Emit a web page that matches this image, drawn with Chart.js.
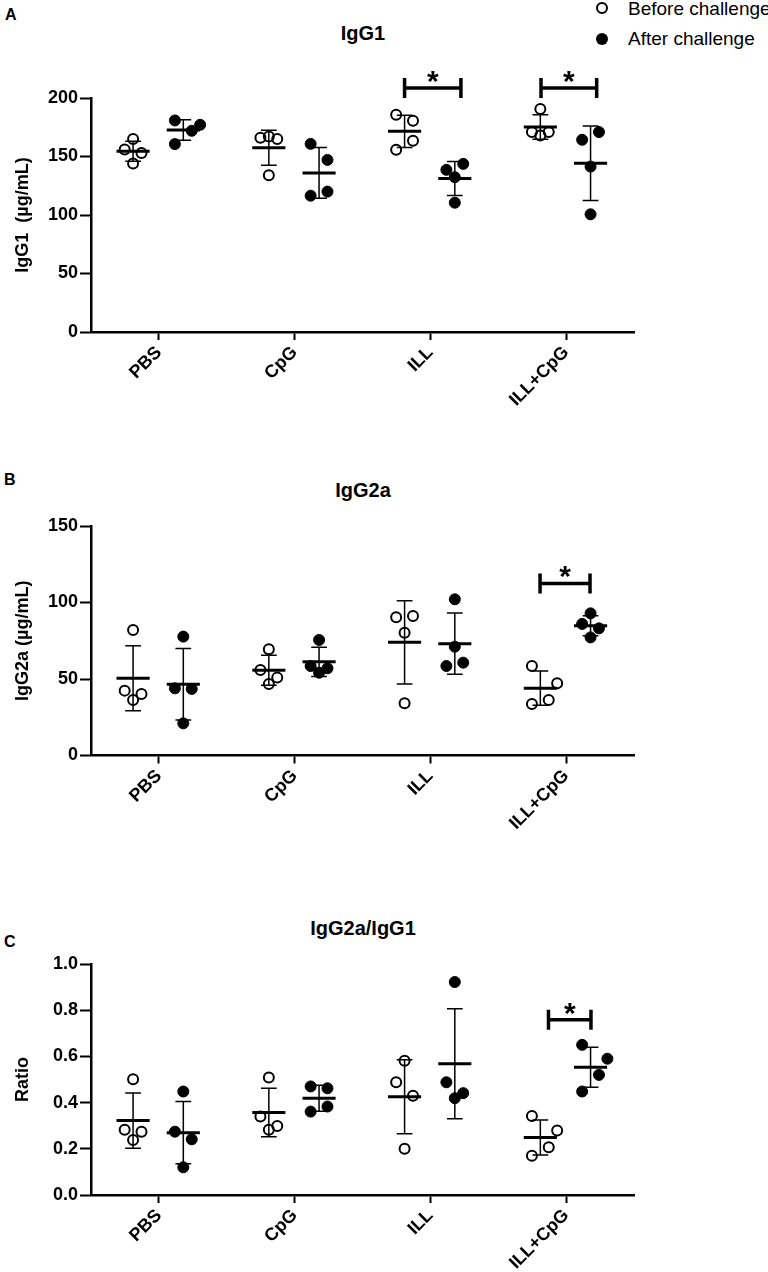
<!DOCTYPE html>
<html>
<head>
<meta charset="utf-8">
<script src="https://cdn.jsdelivr.net/npm/chart.js@4.4.1/dist/chart.umd.min.js"></script>
<style>
  body { margin: 0; background: #fff; width: 768px; height: 1272px; position: relative; overflow: hidden;
         font-family: 'Liberation Sans', Arial, sans-serif; color: #000; }
  canvas { position: absolute; left: 0; }
  .txt { position: absolute; white-space: nowrap; }
  .letter { font-size: 16px; font-weight: bold; line-height: 18px; }
  .title { font-size: 20px; font-weight: bold; line-height: 24px; left: 363px; transform: translateX(-50%); }
  .leg { font-size: 19px; line-height: 22px; left: 628px; }
  .dot { position: absolute; width: 12px; height: 12px; border-radius: 50%; box-sizing: border-box; }
</style>
</head>
<body>
<div class="txt letter" style="left:5px;top:6px">A</div>
<div class="txt letter" style="left:4px;top:471px">B</div>
<div class="txt letter" style="left:4px;top:933px">C</div>

<div class="txt title" style="top:21px">IgG1</div>
<div class="txt title" style="top:478px">IgG2a</div>
<div class="txt title" style="top:916px">IgG2a/IgG1</div>

<div class="dot" style="left:596px;top:2px;border:2px solid #000"></div>
<div class="txt leg" style="top:-2px">Before challenge</div>
<div class="dot" style="left:596px;top:33px;background:#000"></div>
<div class="txt leg" style="top:28px">After challenge</div>

<canvas id="chartA" width="768" height="430" style="top:0"></canvas>
<canvas id="chartB" width="768" height="430" style="top:430px"></canvas>
<canvas id="chartC" width="768" height="412" style="top:860px"></canvas>

<script>
// ---- data (4 mice per group) ----
const categories = ['PBS', 'CpG', 'ILL', 'ILL+CpG'];

const igg1Before = [[165, 156, 153, 144], [166, 167, 165, 134], [185.7, 180.5, 163.4, 155.7], [190.6, 171, 168, 171]];
const igg1After = [[180.8, 160.6, 172, 177.1], [160.8, 147.1, 116.5, 120], [138.6, 143.7, 132.3, 110.5], [164.3, 170.9, 141.4, 100.6]];
const igg1BeforeMean = [154.5, 157.5, 171.5, 175.2];
const igg1BeforeSd = [8.6, 15, 13.8, 10.4];
const igg1AfterMean = [172.6, 136, 131.2, 144.3];
const igg1AfterSd = [8.8, 21.7, 14.6, 31.8];
const igg1Ticks = [0, 50, 100, 150, 200];

const igg2aBefore = [[82, 42.4, 40.2, 36.3], [69.4, 55.9, 50.9, 46.7], [90.3, 91.2, 80.3, 34.1], [58.5, 47.2, 36.3, 33.7]];
const igg2aAfter = [[77.7, 43.9, 43.5, 21], [75.5, 58.5, 54.1, 57], [102.1, 71.1, 58.5, 60.7], [92.9, 86, 83.1, 77.2]];
const igg2aBeforeMean = [50.5, 55.7, 74, 44];
const igg2aBeforeSd = [21.2, 9.8, 27.2, 11.2];
const igg2aAfterMean = [46.6, 61.2, 73.1, 84.8];
const igg2aAfterSd = [23.4, 9.6, 20, 6.5];
const igg2aTicks = [0, 50, 100, 150];

const ratioBefore = [[0.501, 0.282, 0.274, 0.238], [0.509, 0.34, 0.299, 0.282], [0.581, 0.488, 0.43, 0.2], [0.342, 0.279, 0.207, 0.17]];
const ratioAfter = [[0.448, 0.274, 0.241, 0.12], [0.47, 0.462, 0.361, 0.383], [0.922, 0.488, 0.441, 0.419], [0.65, 0.59, 0.52, 0.448]];
const ratioBeforeMean = [0.322, 0.357, 0.425, 0.249];
const ratioBeforeSd = [0.12, 0.105, 0.16, 0.076];
const ratioAfterMean = [0.27, 0.419, 0.568, 0.553];
const ratioAfterSd = [0.135, 0.056, 0.238, 0.087];
const ratioTicks = [0, 0.2, 0.4, 0.6, 0.8, 1.0];

// significance brackets: group index and bracket height (data units)
const igg1SigGroups = [2, 3];
const igg1SigLevel = [208.6, 208.6];
const igg2aSigGroups = [3];
const igg2aSigLevel = [112.5];
const ratioSigGroups = [3];
const ratioSigLevel = [0.759];

// ---- layout (category units on the x scale) ----
const BEFORE_POS = -0.19, AFTER_POS = 0.18, SLOT = 0.062;
const MEAN_HALF = 0.122, CAP_HALF = 0.058;
const jitterA = {
  before: [[0, -1, 1, 0], [-1, 0, 1, 0], [-1, 1, 1, -1], [0, -1, 0, 1]],
  after: [[-1, -1, 1, 2], [-1, 1, -1, 1], [-1, 1, 0, 0], [-1, 1, 0, 0]]
};
const jitterB = {
  before: [[0, -1, 1, 0], [0, -1, 1, 0], [-1, 1, 0, 0], [-1, 2, 1, -1]],
  after: [[0, -1, 1, 0], [0, -1, 0, 1], [0, 0, -1, 1], [0, -1, 1, 0]]
};
const jitterC = {
  before: [[0, -1, 1, 0], [0, -1, 1, 0], [0, -1, 1, 0], [-1, 2, 1, -1]],
  after: [[0, -1, 1, 0], [-1, 1, -1, 1], [0, -1, 1, 0], [-1, 2, 1, -1]]
};
const FONT = "'Liberation Sans', Arial, sans-serif";

function toPoints(groups, pos, slots) {
  const pts = [];
  groups.forEach((vals, i) => {
    vals.forEach((v, j) => pts.push({ x: i + 1 + pos + slots[i][j] * SLOT, y: v }));
  });
  return pts;
}

// mean line with SD whiskers, drawn through the library's scales
function errorBars(stats) {
  return {
    id: 'errorBars',
    afterDatasetsDraw(chart) {
      const { ctx, scales: { x, y } } = chart;
      ctx.save();
      ctx.strokeStyle = '#000';
      ctx.lineCap = 'butt';
      stats.forEach(s => {
        s.mean.forEach((m, i) => {
          const c = i + 1 + s.pos;
          const px = x.getPixelForValue(c);
          const hw = x.getPixelForValue(c + MEAN_HALF) - px;
          const cw = x.getPixelForValue(c + CAP_HALF) - px;
          const pm = y.getPixelForValue(m);
          const pt = y.getPixelForValue(m + s.sd[i]);
          const pb = y.getPixelForValue(m - s.sd[i]);
          ctx.lineWidth = 1.5;
          ctx.beginPath();
          ctx.moveTo(px, pt); ctx.lineTo(px, pb);
          ctx.moveTo(px - cw, pt); ctx.lineTo(px + cw, pt);
          ctx.moveTo(px - cw, pb); ctx.lineTo(px + cw, pb);
          ctx.stroke();
          ctx.lineWidth = 3;
          ctx.beginPath();
          ctx.moveTo(px - hw, pm); ctx.lineTo(px + hw, pm);
          ctx.stroke();
        });
      });
      ctx.restore();
    }
  };
}

function sigBrackets(groups, levels, from, to) {
  return {
    id: 'sigBrackets',
    afterDatasetsDraw(chart) {
      const { ctx, scales: { x, y } } = chart;
      ctx.save();
      ctx.strokeStyle = '#000';
      ctx.fillStyle = '#000';
      ctx.lineWidth = 3.5;
      groups.forEach((g, k) => {
        const x0 = x.getPixelForValue(g + 1 + from[k]);
        const x1 = x.getPixelForValue(g + 1 + to[k]);
        const py = y.getPixelForValue(levels[k]);
        ctx.beginPath();
        ctx.moveTo(x0, py); ctx.lineTo(x1, py);
        ctx.moveTo(x0, py - 10); ctx.lineTo(x0, py + 10);
        ctx.moveTo(x1, py - 10); ctx.lineTo(x1, py + 10);
        ctx.stroke();
        ctx.font = 'bold 30px ' + FONT;
        ctx.textAlign = 'center';
        ctx.textBaseline = 'alphabetic';
        ctx.fillText('*', (x0 + x1) / 2, py + 3);
      });
      ctx.restore();
    }
  };
}

function makeChart(id, p) {
  return new Chart(document.getElementById(id), {
    type: 'scatter',
    data: {
      datasets: [{
        label: 'Before challenge',
        data: toPoints(p.before, BEFORE_POS, p.jitter.before),
        pointRadius: 5,
        pointBorderWidth: 2,
        pointBorderColor: '#000',
        pointBackgroundColor: 'rgba(0,0,0,0)'
      }, {
        label: 'After challenge',
        data: toPoints(p.after, AFTER_POS, p.jitter.after),
        pointRadius: 5.5,
        pointBorderWidth: 1,
        pointBorderColor: '#000',
        pointBackgroundColor: '#000'
      }]
    },
    plugins: [
      errorBars([
        { pos: BEFORE_POS, mean: p.beforeMean, sd: p.beforeSd },
        { pos: AFTER_POS, mean: p.afterMean, sd: p.afterSd }
      ]),
      sigBrackets(p.sigGroups, p.sigLevel, p.sigFrom, p.sigTo)
    ],
    options: {
      responsive: false,
      animation: false,
      layout: { padding: { left: 0, right: 134, top: p.top, bottom: 0 } },
      plugins: { legend: { display: false }, tooltip: { enabled: false } },
      scales: {
        x: {
          type: 'linear',
          min: 0.5,
          max: 4.5,
          afterBuildTicks: s => { s.ticks = categories.map((c, i) => ({ value: i + 1 })); },
          afterFit: s => { s.height = p.xHeight; },
          ticks: {
            autoSkip: false,
            minRotation: 45,
            maxRotation: 45,
            padding: 2,
            color: '#000',
            font: { family: FONT, size: 18, weight: 'bold' },
            callback: v => categories[Math.round(v) - 1]
          },
          grid: { drawOnChartArea: false, drawTicks: true, tickLength: 8, tickWidth: 2, tickColor: '#000' },
          border: { color: '#000', width: 2.5 }
        },
        y: {
          min: p.ticks[0],
          max: p.ticks[p.ticks.length - 1],
          afterBuildTicks: s => { s.ticks = p.ticks.map(v => ({ value: v })); },
          afterFit: s => { s.width = 91; },
          ticks: {
            padding: 2,
            color: '#000',
            font: { family: FONT, size: 18, weight: 'bold' },
            callback: v => p.fmt(v)
          },
          grid: { drawOnChartArea: false, drawTicks: true, tickLength: 11, tickWidth: 2, tickColor: '#000' },
          border: { color: '#000', width: 2.5 },
          title: {
            display: true,
            text: p.yTitle,
            color: '#000',
            font: { family: FONT, size: 18, weight: 'bold' },
            padding: { top: 12, bottom: 0 }
          }
        }
      }
    }
  });
}

makeChart('chartA', {
  before: igg1Before, after: igg1After, jitter: jitterA,
  beforeMean: igg1BeforeMean, beforeSd: igg1BeforeSd, afterMean: igg1AfterMean, afterSd: igg1AfterSd,
  sigGroups: igg1SigGroups, sigLevel: igg1SigLevel, sigFrom: [-0.19, -0.185], sigTo: [0.225, 0.225],
  ticks: igg1Ticks, fmt: v => String(v), yTitle: 'IgG1  (\u00b5g/mL)',
  top: 98, xHeight: 98
});

makeChart('chartB', {
  before: igg2aBefore, after: igg2aAfter, jitter: jitterB,
  beforeMean: igg2aBeforeMean, beforeSd: igg2aBeforeSd, afterMean: igg2aAfterMean, afterSd: igg2aAfterSd,
  sigGroups: igg2aSigGroups, sigLevel: igg2aSigLevel, sigFrom: [-0.192], sigTo: [0.176],
  ticks: igg2aTicks, fmt: v => String(v), yTitle: 'IgG2a (\u00b5g/mL)',
  top: 96, xHeight: 104.5
});

makeChart('chartC', {
  before: ratioBefore, after: ratioAfter, jitter: jitterC,
  beforeMean: ratioBeforeMean, beforeSd: ratioBeforeSd, afterMean: ratioAfterMean, afterSd: ratioAfterSd,
  sigGroups: ratioSigGroups, sigLevel: ratioSigLevel, sigFrom: [-0.13], sigTo: [0.183],
  ticks: ratioTicks, fmt: v => v.toFixed(1), yTitle: 'Ratio',
  top: 104, xHeight: 77
});
</script>
</body>
</html>
